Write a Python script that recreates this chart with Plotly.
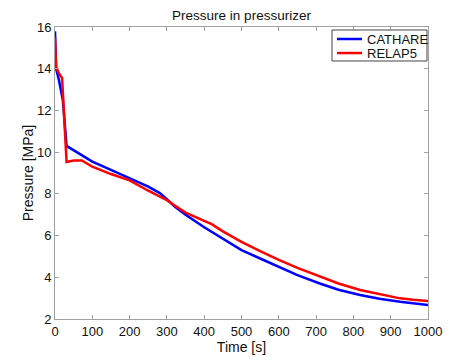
import plotly.graph_objects as go

t_cathare = [0, 3, 10, 21, 31, 62, 100, 150, 200, 250, 280, 300, 320, 350, 400, 450, 500, 550, 600, 650, 710, 760, 818, 870, 925, 960, 1000]
p_cathare = [15.8, 14.0, 13.5, 12.5, 10.3, 9.95, 9.55, 9.15, 8.75, 8.35, 8.05, 7.75, 7.4, 7.0, 6.4, 5.85, 5.3, 4.9, 4.5, 4.1, 3.7, 3.4, 3.15, 2.97, 2.83, 2.74, 2.67]

t_relap = [0, 3, 10, 19, 31, 50, 72, 100, 150, 200, 250, 300, 320, 350, 400, 420, 450, 500, 550, 600, 650, 710, 760, 818, 870, 925, 960, 1000]
p_relap = [15.5, 14.05, 13.8, 13.55, 9.53, 9.6, 9.6, 9.3, 8.95, 8.65, 8.15, 7.7, 7.45, 7.1, 6.7, 6.55, 6.2, 5.7, 5.25, 4.83, 4.45, 4.03, 3.7, 3.39, 3.18, 2.99, 2.92, 2.86]

series_names = ["CATHARE", "RELAP5"]
series_colors = ["#0000ff", "#ff0000"]

fig = go.Figure()
fig.add_trace(go.Scatter(x=t_cathare, y=p_cathare, mode="lines", name=series_names[0],
                         line=dict(color=series_colors[0], width=2.5), showlegend=False))
fig.add_trace(go.Scatter(x=t_relap, y=p_relap, mode="lines", name=series_names[1],
                         line=dict(color=series_colors[1], width=2.5), showlegend=False))

FONT = "Liberation Sans, Arial"
axis_common = dict(showgrid=False, zeroline=False, showline=True, linecolor="#a0a0a0",
                   linewidth=1, mirror="ticks", ticks="inside", ticklen=4, automargin=False,
                   tickcolor="#a0a0a0", tickfont=dict(family=FONT, size=13, color="#111"))

# Legend drawn as a compact MATLAB-style box
shapes = [dict(type="rect", xref="paper", yref="paper", x0=0.7426, x1=0.9973, y0=0.8836, y1=0.9897,
               line=dict(color="#444", width=1), fillcolor="white", layer="above")]
annotations = []
for i, (nm, col) in enumerate(zip(series_names, series_colors)):
    yy = 0.9589 - i * 0.048
    shapes.append(dict(type="line", xref="paper", yref="paper", x0=0.756, x1=0.823, y0=yy, y1=yy,
                       line=dict(color=col, width=2.5), layer="above"))
    annotations.append(dict(text=nm, xref="paper", yref="paper", x=0.831, y=yy, xanchor="left",
                            yanchor="middle", showarrow=False,
                            font=dict(family=FONT, size=13, color="#111")))

fig.update_layout(
    width=466, height=352,
    margin=dict(l=47, r=46, t=19, b=41),
    paper_bgcolor="white", plot_bgcolor="white",
    title=dict(text="Pressure in pressurizer", x=0.5, xref="paper", xanchor="center",
               yref="container", y=0.993, yanchor="top", pad=dict(t=0), automargin=False,
               font=dict(family=FONT, size=13.5, color="#111")),
    xaxis=dict(range=[0, 1000], dtick=100, **axis_common,
               title=dict(text="Time [s]", standoff=0,
                          font=dict(family=FONT, size=14, color="#111"))),
    yaxis=dict(range=[2, 16], dtick=2, **axis_common,
               title=dict(text="Pressure [MPa]", standoff=0,
                          font=dict(family=FONT, size=14, color="#111"))),
    shapes=shapes,
    annotations=annotations,
    showlegend=False,
)

fig.write_html("out.html")
